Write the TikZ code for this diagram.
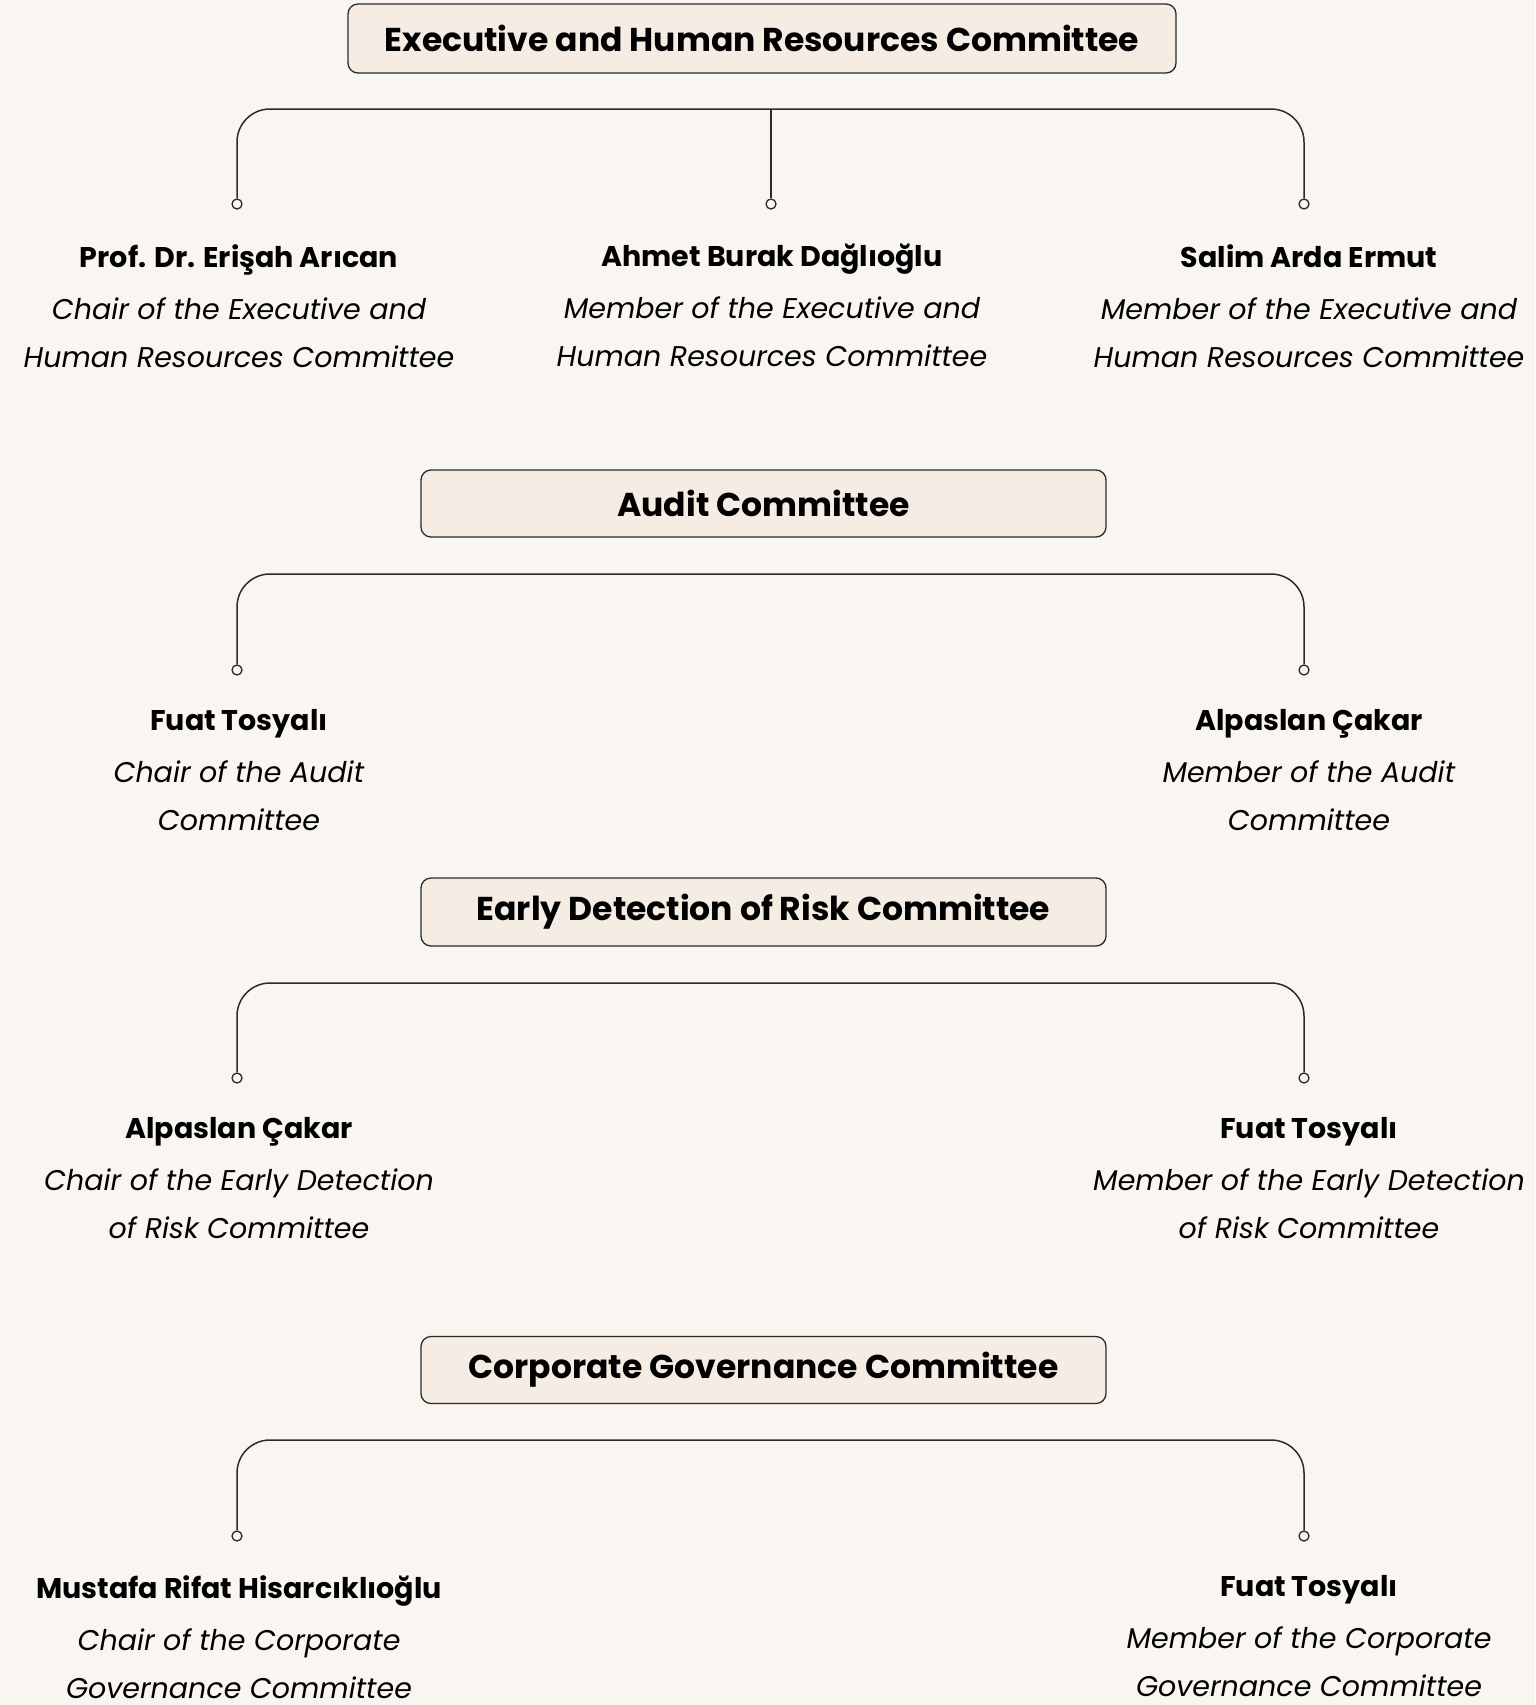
\documentclass[tikz,border=0pt]{standalone}
\usepackage{fontspec}
\setmainfont{Poppins}
\definecolor{bg}{HTML}{F9F5F0}
\definecolor{boxfill}{HTML}{F5ECE3}
\definecolor{ln}{HTML}{2B2B2B}
\newcommand{\gapone}{\\[4pt]}
\begin{document}
\begin{tikzpicture}[x=1pt,y=-1pt,
  title/.style={draw=ln, line width=1.3pt, fill=boxfill, rounded corners=10pt, inner sep=0pt, font=\fontsize{33}{40}\selectfont\bfseries},
  person/.style={align=center, anchor=north, inner sep=0pt, font=\fontsize{28.5}{48}\selectfont},
  dot/.style={circle, draw=ln, line width=1.3pt, fill=bg, minimum size=10pt, inner sep=0pt},
  bar/.style={draw=ln, line width=1.5pt, rounded corners=33pt}]
\fill[bg] (0,0) rectangle (1535,1705);
\useasboundingbox (0,0) rectangle (1535,1705);

% ---- Executive and Human Resources Committee
\node[title, minimum width=828pt, minimum height=69pt] (t1) at (762,38.5) {Executive and Human Resources Committee};
\coordinate (b1) at (771,109);
\node[dot] (d11) at (237,204) {};
\node[dot] (d12) at (771,204) {};
\node[dot] (d13) at (1304,204) {};
\draw[bar] (d11.north) |- (b1) -| (d13.north);
\draw[draw=ln, line width=1.5pt] (b1) -- (d12.north);
\node[person] (p11) at (239,244) {\textbf{Prof. Dr. Erişah Arıcan}\gapone \textit{Chair of the Executive and}\\ \textit{Human Resources Committee}};
\node[person] (p12) at (772,244) {\textbf{Ahmet Burak Dağlıoğlu}\gapone \textit{Member of the Executive and}\\ \textit{Human Resources Committee}};
\node[person] (p13) at (1309,244) {\textbf{Salim Arda Ermut}\gapone \textit{Member of the Executive and}\\ \textit{Human Resources Committee}};

% ---- Audit Committee
\node[title, minimum width=685pt, minimum height=67pt] (t2) at (763.5,503.5) {Audit Committee};
\coordinate (b2) at (771,574);
\node[dot] (d21) at (237,670) {};
\node[dot] (d22) at (1304,670) {};
\draw[bar] (d21.north) |- (b2) -| (d22.north);
\node[person] (p21) at (239,709) {\textbf{Fuat Tosyalı}\gapone \textit{Chair of the Audit}\\ \textit{Committee}};
\node[person] (p22) at (1309,709) {\textbf{Alpaslan Çakar}\gapone \textit{Member of the Audit}\\ \textit{Committee}};

% ---- Early Detection of Risk Committee
\node[title, minimum width=685pt, minimum height=68pt] (t3) at (763.5,912) {Early Detection of Risk Committee};
\coordinate (b3) at (771,983);
\node[dot] (d31) at (237,1078) {};
\node[dot] (d32) at (1304,1078) {};
\draw[bar] (d31.north) |- (b3) -| (d32.north);
\node[person] (p31) at (239,1117) {\textbf{Alpaslan Çakar}\gapone \textit{Chair of the Early Detection}\\ \textit{of Risk Committee}};
\node[person] (p32) at (1309,1117) {\textbf{Fuat Tosyalı}\gapone \textit{Member of the Early Detection}\\ \textit{of Risk Committee}};

% ---- Corporate Governance Committee
\node[title, minimum width=685pt, minimum height=67pt] (t4) at (763.5,1370) {Corporate Governance Committee};
\coordinate (b4) at (771,1440);
\node[dot] (d41) at (237,1536) {};
\node[dot] (d42) at (1304,1536) {};
\draw[bar] (d41.north) |- (b4) -| (d42.north);
\node[person] (p41) at (239,1575) {\textbf{Mustafa Rifat Hisarcıklıoğlu}\gapone \textit{Chair of the Corporate}\\ \textit{Governance Committee}};
\node[person] (p42) at (1309,1575) {\textbf{Fuat Tosyalı}\gapone \textit{Member of the Corporate}\\ \textit{Governance Committee}};
\end{tikzpicture}
\end{document}
